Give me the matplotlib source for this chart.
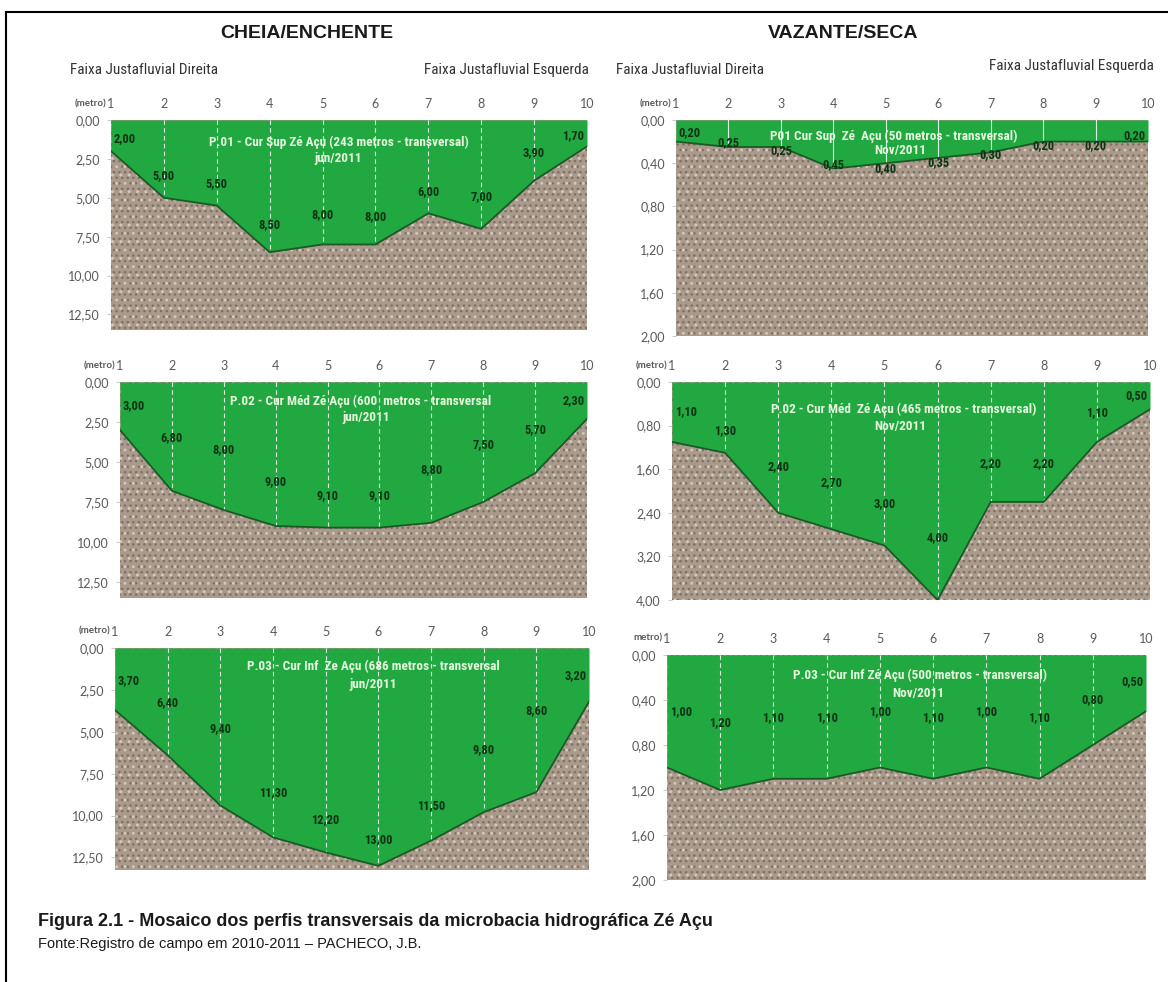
import matplotlib
matplotlib.use('Agg')
import matplotlib.pyplot as plt
from matplotlib import font_manager
from matplotlib.patches import Rectangle

# fontes disponiveis (procura uma fonte estreita)
fl = font_manager.fontManager.ttflist
names = {f.name for f in fl}
NARROW, STRETCH = 'Liberation Sans', 'normal'
for nm in ['Liberation Sans Narrow', 'Roboto Condensed', 'Open Sans Condensed']:
    if nm in names:
        NARROW = nm
        break
else:
    if any(f.name == 'DejaVu Sans' and f.stretch == 'condensed' for f in fl):
        NARROW, STRETCH = 'DejaVu Sans', 'condensed'
TICKF = 'Lato' if 'Lato' in names else 'DejaVu Sans'

# dados: pontos de medicao e profundidades (metro)
pontos = [1, 2, 3, 4, 5, 6, 7, 8, 9, 10]
p1_cheia = [2.00, 5.00, 5.50, 8.50, 8.00, 8.00, 6.00, 7.00, 3.90, 1.70]
p1_seca = [0.20, 0.25, 0.25, 0.45, 0.40, 0.35, 0.30, 0.20, 0.20, 0.20]
p2_cheia = [3.00, 6.80, 8.00, 9.00, 9.10, 9.10, 8.80, 7.50, 5.70, 2.30]
p2_seca = [1.10, 1.30, 2.40, 2.70, 3.00, 4.00, 2.20, 2.20, 1.10, 0.50]
p3_cheia = [3.70, 6.40, 9.40, 11.30, 12.20, 13.00, 11.50, 9.80, 8.60, 3.20]
p3_seca = [1.00, 1.20, 1.10, 1.10, 1.00, 1.10, 1.00, 1.10, 0.80, 0.50]

ticks_cheia = [0, 2.5, 5, 7.5, 10, 12.5]
ticks_seca_a = [0, 0.4, 0.8, 1.2, 1.6, 2.0]
ticks_seca_b = [0, 0.8, 1.6, 2.4, 3.2, 4.0]

# posicao vertical dos rotulos de valor (layout)
lab_p1c = [1.17, 3.6, 4.1, 6.7, 6.1, 6.2, 4.6, 4.95, 2.1, 1.0]
lab_p1s = [0.12, 0.21, 0.28, 0.41, 0.45, 0.39, 0.32, 0.24, 0.24, 0.14]
lab_p2c = [1.49, 3.5, 4.2, 6.2, 7.1, 7.1, 5.45, 3.93, 3.0, 1.15]
lab_p2s = [0.55, 0.9, 1.55, 1.84, 2.23, 2.86, 1.5, 1.5, 0.57, 0.25]
lab_p3c = [1.94, 3.28, 4.8, 8.64, 10.24, 11.44, 9.38, 6.04, 3.74, 1.64]
lab_p3s = [0.5, 0.6, 0.56, 0.56, 0.5, 0.56, 0.5, 0.56, 0.4, 0.24]

W, H = 1168, 982
fig = plt.figure(figsize=(W / 100, H / 100), dpi=100)
fig.patch.set_facecolor('white')

def px_axes(x0, y0, x1, y1):
    return fig.add_axes([x0 / W, 1 - y1 / H, (x1 - x0) / W, (y1 - y0) / H])

def fmt(v):
    return f'{v:.2f}'.replace('.', ',')

def painel(rect, prof, ticks, ymax, labs, titulo, data, tpos, grid_ls, metro_txt='(metro)'):
    ax = px_axes(*rect)
    ax.set_xlim(1, 10)
    ax.set_ylim(ymax, 0)
    # fundo tipo cascalho
    ax.add_patch(Rectangle((0, 0), 1, 1, transform=ax.transAxes, facecolor='#a99a8b',
                           edgecolor='#7f7063', hatch='...', lw=0, zorder=0))
    ax.add_patch(Rectangle((0, 0), 1, 1, transform=ax.transAxes, facecolor='none',
                           edgecolor='#d2c7bb', hatch='..', lw=0, zorder=0.5))
    ax.fill_between(pontos, 0, prof, color='#22a841', zorder=2, lw=0)
    ax.plot(pontos, prof, color='#1b5a26', lw=1.3, zorder=3)
    for x, d in zip(pontos[1:-1], prof[1:-1]):
        ax.plot([x, x], [0, d], color='white', lw=0.8, ls=grid_ls, alpha=0.85, zorder=2.5)
    for i, (x, v, ly) in enumerate(zip(pontos, prof, labs)):
        ha = 'center'
        xx = x
        if i == 0:
            ha, xx = 'left', x + 0.05
        elif i == len(pontos) - 1:
            ha, xx = 'right', x - 0.05
        ax.text(xx, ly, fmt(v), ha=ha, va='center', fontsize=9, fontweight='bold',
                color='#0d3314', family=NARROW, fontstretch=STRETCH, zorder=4)
    ax.text(tpos[0], tpos[1], titulo, ha='center', va='center', fontsize=9.5, fontweight='bold',
            color='#e4f7dc', family=NARROW, fontstretch=STRETCH, zorder=4)
    ax.text(tpos[2], tpos[3], data, ha='center', va='center', fontsize=9.5, fontweight='bold',
            color='#e4f7dc', family=NARROW, fontstretch=STRETCH, zorder=4)
    ax.xaxis.tick_top()
    ax.set_xticks(pontos)
    ax.set_xticklabels([str(p) for p in pontos])
    ax.tick_params(axis='x', length=0, pad=7, labelsize=9, labelcolor='#595959')
    ax.set_yticks(ticks)
    ax.set_yticklabels([fmt(t) for t in ticks])
    ax.tick_params(axis='y', length=3, width=0.6, color='#bfbfbf', pad=5, labelsize=9,
                   labelcolor='#595959')
    for lab in ax.get_xticklabels() + ax.get_yticklabels():
        lab.set_family(TICKF)
    for s in ax.spines.values():
        s.set_visible(False)
    ax.text(-0.01, 1.055, metro_txt, transform=ax.transAxes, ha='right', va='bottom',
            fontsize=7, fontweight='bold', color='#595959', family=TICKF)
    return ax

dash = (0, (4, 3))
painel((111, 120, 587, 330), p1_cheia, ticks_cheia, 13.5, lab_p1c,
       'P.01 - Cur Sup Zé Açu (243 metros - transversal)', 'jun/2011', (5.3, 1.45, 5.3, 2.5), dash)
painel((676, 120, 1148, 336), p1_seca, ticks_seca_a, 2.0, lab_p1s,
       'P01 Cur Sup  Zé  Açu (50 metros - transversal)', 'Nov/2011', (5.16, 0.15, 5.27, 0.28), '-')
painel((120, 382, 587, 598), p2_cheia, ticks_cheia, 13.5, lab_p2c,
       'P.02 - Cur Méd Zé Açu (600  metros - transversal', 'jun/2011', (5.64, 1.2, 5.75, 2.24), dash)
painel((672, 382, 1150, 600), p2_seca, ticks_seca_b, 4.0, lab_p2s,
       'P.02 - Cur Méd  Zé Açu (465 metros - transversal)', 'Nov/2011', (5.36, 0.5, 5.29, 0.81), dash)
painel((115, 648, 589, 870), p3_cheia, ticks_cheia, 13.25, lab_p3c,
       'P.03 - Cur Inf  Ze Açu (686 metros - transversal', 'jun/2011', (5.91, 1.08, 5.91, 2.2), dash)
painel((667, 655, 1146, 880), p3_seca, ticks_seca_a, 2.0, lab_p3s,
       'P.03 - Cur Inf Zé Açu (500 metros - transversal)', 'Nov/2011', (5.75, 0.18, 5.72, 0.34), dash,
       metro_txt='metro)')

# moldura
fig.add_artist(plt.Line2D([6 / W, 6 / W], [0, 1 - 12 / H], color='black', lw=1.5))
fig.add_artist(plt.Line2D([6 / W, 1], [1 - 12 / H, 1 - 12 / H], color='black', lw=1.5))

# cabecalhos
fig.text(307 / W, 1 - 33 / H, 'CHEIA/ENCHENTE', ha='center', va='center', fontsize=14,
         fontweight='bold', family='Liberation Sans', color='#1a1a1a')
fig.text(843 / W, 1 - 33 / H, 'VAZANTE/SECA', ha='center', va='center', fontsize=14,
         fontweight='bold', family='Liberation Sans', color='#1a1a1a')
for x, y, t, ha in [(70, 70, 'Faixa Justafluvial Direita', 'left'),
                    (589, 70, 'Faixa Justafluvial Esquerda', 'right'),
                    (616, 70, 'Faixa Justafluvial Direita', 'left'),
                    (1154, 66, 'Faixa Justafluvial Esquerda', 'right')]:
    fig.text(x / W, 1 - y / H, t, ha=ha, va='center', fontsize=11, family=NARROW,
             fontstretch=STRETCH, color='#333333')

# legenda da figura
fig.text(38 / W, 1 - 922 / H, 'Figura 2.1 - Mosaico dos perfis transversais da microbacia hidrográfica Zé Açu',
         ha='left', va='center', fontsize=13, fontweight='bold', family='Liberation Sans', color='#1a1a1a')
fig.text(38 / W, 1 - 944 / H, 'Fonte:Registro de campo em 2010-2011 – PACHECO, J.B.',
         ha='left', va='center', fontsize=10.5, family='Liberation Sans', color='#1a1a1a')

fig.savefig('out.png', dpi=100, facecolor='white')
